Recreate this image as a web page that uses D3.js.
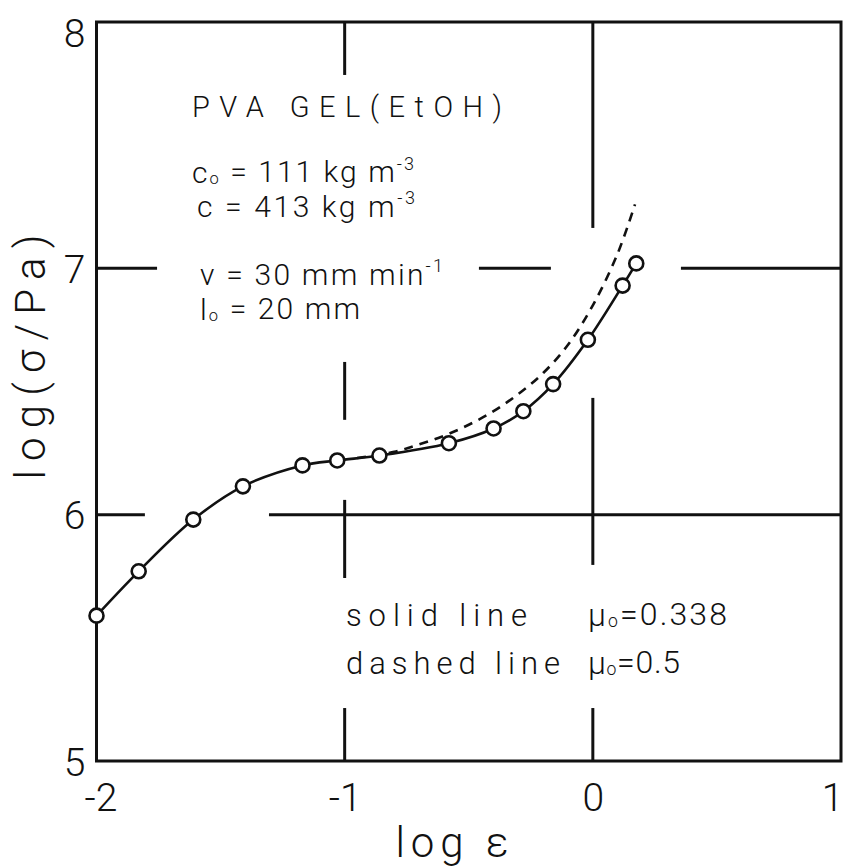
<!DOCTYPE html>
<html><head><meta charset="utf-8">
<script src="https://cdn.jsdelivr.net/npm/d3@7"></script>
<style>body{margin:0;background:#fff} svg{display:block}</style>
</head><body>
<svg id="chart" width="848" height="867"></svg>
<script>
// ---- data ----
const xTicks = [-2, -1, 0, 1];
const yTicks = [5, 6, 7, 8];
const logStrain = [-2.00, -1.83, -1.61, -1.41, -1.17, -1.03, -0.86, -0.58, -0.40, -0.28, -0.16, -0.02, 0.12, 0.175];
const logStress = [5.59, 5.77, 5.98, 6.115, 6.2, 6.22, 6.24, 6.29, 6.35, 6.42, 6.53, 6.71, 6.93, 7.02];
const dashedStrain = [-0.95, -0.8, -0.7, -0.6, -0.5, -0.4, -0.3, -0.2, -0.1, 0.0, 0.1, 0.17];
const dashedStress = [6.23, 6.255, 6.285, 6.32, 6.365, 6.42, 6.49, 6.575, 6.69, 6.85, 7.06, 7.26];

// ---- layout ----
const svg = d3.select("#chart");
const x = d3.scaleLinear().domain([-2, 1]).range([96.5, 841]);
const y = d3.scaleLinear().domain([5, 8]).range([761, 22]);
const FONT = "Roboto, 'DejaVu Sans', sans-serif";
const WEIGHT = 300;
const ink = "#111";

// broken grid lines (gaps left for annotations), in data units
const hGrid = [
  {v: 7, segs: [[-2, -1.756], [-0.459, -0.169], [0.355, 1]]},
  {v: 6, segs: [[-2, -1.805], [-1.305, 1]]}
];
const vGrid = [
  {v: -1, segs: [[8, 7.785], [6.62, 6.385], [6.06, 5.743], [5.215, 5]]},
  {v: 0, segs: [[8, 7.164], [6.474, 5.796], [5.215, 5]]}
];
const g = svg.append("g");
hGrid.forEach(h => h.segs.forEach(s => {
  g.append("line").attr("x1", x(s[0])).attr("x2", x(s[1]))
    .attr("y1", y(h.v)).attr("y2", y(h.v))
    .attr("stroke", ink).attr("stroke-width", 3);
}));
vGrid.forEach(h => h.segs.forEach(s => {
  g.append("line").attr("x1", x(h.v)).attr("x2", x(h.v))
    .attr("y1", y(s[0])).attr("y2", y(s[1]))
    .attr("stroke", ink).attr("stroke-width", 3);
}));

// frame
svg.append("rect").attr("x", x(-2)).attr("y", y(8))
  .attr("width", x(1) - x(-2)).attr("height", y(5) - y(8))
  .attr("fill", "none").attr("stroke", ink).attr("stroke-width", 3);

// axes (labels only)
const xAxis = svg.append("g").attr("transform", `translate(0,${y(5)})`)
  .call(d3.axisBottom(x).tickValues(xTicks).tickSize(0).tickPadding(22)
    .tickFormat(d => d < 0 ? "-" + Math.abs(d) : String(d)));
xAxis.select(".domain").remove();
xAxis.selectAll("text").attr("font-family", FONT).attr("font-weight", WEIGHT)
  .attr("font-size", 39).attr("fill", ink)
  .attr("dx", d => d === -2 ? 4 : (d === 1 ? -9 : 0));

const yAxis = svg.append("g").attr("transform", `translate(${x(-2)},0)`)
  .call(d3.axisLeft(y).tickValues(yTicks).tickSize(0).tickPadding(11)
    .tickFormat(d3.format("d")));
yAxis.select(".domain").remove();
yAxis.selectAll("text").attr("font-family", FONT).attr("font-weight", WEIGHT)
  .attr("font-size", 39).attr("fill", ink)
  .attr("dy", d => d === 8 ? "0.62em" : "0.36em");

// axis titles
svg.append("text").attr("x", 452).attr("y", 857).attr("text-anchor", "middle")
  .attr("font-family", FONT).attr("font-weight", WEIGHT).attr("font-size", 42).attr("fill", ink)
  .attr("textLength", 113).attr("lengthAdjust", "spacing")
  .text("log \u03b5");
svg.append("text").attr("transform", "translate(45,357) rotate(-90)")
  .attr("text-anchor", "middle")
  .attr("font-family", FONT).attr("font-weight", WEIGHT).attr("font-size", 42).attr("fill", ink)
  .attr("textLength", 245).attr("lengthAdjust", "spacing")
  .text("log(\u03c3/Pa)");

// curves
const pts = logStrain.map((d, i) => [d, logStress[i]]);
const dpts = dashedStrain.map((d, i) => [d, dashedStress[i]]);
const line = d3.line().x(d => x(d[0])).y(d => y(d[1])).curve(d3.curveCatmullRom.alpha(0.5));
svg.append("path").attr("d", line(dpts)).attr("fill", "none")
  .attr("stroke", ink).attr("stroke-width", 2.6).attr("stroke-dasharray", "9,7");
svg.append("path").attr("d", line(pts)).attr("fill", "none")
  .attr("stroke", ink).attr("stroke-width", 2.6);
svg.selectAll("circle.pt").data(pts).enter().append("circle")
  .attr("cx", d => x(d[0])).attr("cy", d => y(d[1])).attr("r", 7)
  .attr("fill", "#fff").attr("stroke", ink).attr("stroke-width", 2.6);

// annotations
function label(xp, yp, parts, size, len) {
  const t = svg.append("text").attr("x", xp).attr("y", yp)
    .attr("font-family", FONT).attr("font-weight", WEIGHT)
    .attr("font-size", size).attr("fill", ink)
    .attr("textLength", len).attr("lengthAdjust", "spacing");
  parts.forEach(p => {
    const s = t.append("tspan").text(p.t);
    if (p.sub) s.attr("font-size", size * 0.55).attr("dy", "0.05em");
    if (p.unsub) s.attr("dy", "-0.05em");
    if (p.sup) s.attr("font-size", size * 0.6).attr("dy", "-0.7em");
  });
  return t;
}
label(192, 117, [{t: "PVA  GEL(EtOH)"}], 29, 310);
label(192, 183, [{t: "c"}, {t: "o", sub: true}, {t: " = 111 kg m", unsub: true}, {t: "-3", sup: true}], 30, 222);
label(197, 217, [{t: "c  = 413 kg m"}, {t: "-3", sup: true}], 30, 218);
label(200, 285, [{t: "v = 30 mm min"}, {t: "-1", sup: true}], 30, 243);
label(200, 320, [{t: "l"}, {t: "o", sub: true}, {t: " = 20 mm", unsub: true}], 30, 160);
label(346, 626, [{t: "solid  line"}], 31, 181);
label(346, 674, [{t: "dashed  line"}], 31, 214);
label(588, 626, [{t: "\u03bc"}, {t: "o", sub: true}, {t: "=0.338", unsub: true}], 32, 139);
label(588, 674, [{t: "\u03bc"}, {t: "o", sub: true}, {t: "=0.5", unsub: true}], 32, 92);
</script>
</body></html>
